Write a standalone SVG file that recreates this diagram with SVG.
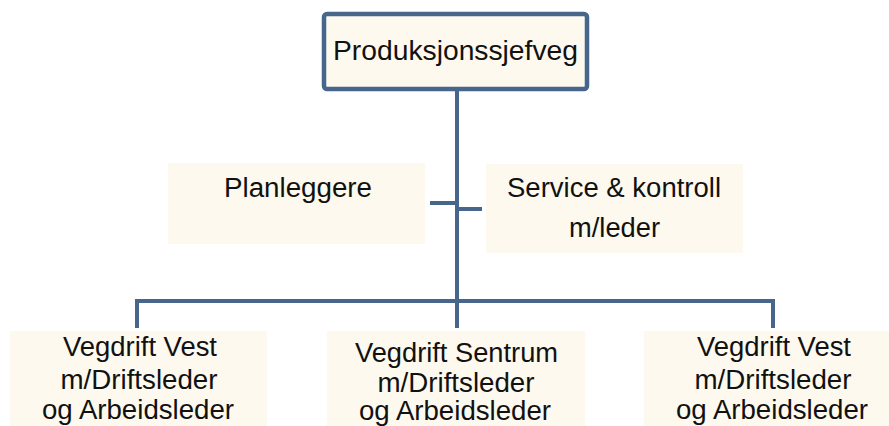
<svg xmlns="http://www.w3.org/2000/svg" width="889" height="426" viewBox="0 0 889 426">
<style>
.box{fill:#fdf9ee;}
.top{fill:#fdf9ee;stroke:#46678b;stroke-width:4.5;}
.t{font-family:"Liberation Sans",Arial,sans-serif;font-size:27px;fill:#111;text-anchor:middle;}
.c{stroke:#46678b;stroke-width:4;fill:none;}
</style>
<rect width="889" height="426" fill="#ffffff"/>
<g id="connectors">
<path class="c" d="M457,89 V328"/>
<path class="c" d="M137,328 V301 H773 V328"/>
<path class="c" d="M430,203 H457"/>
<path class="c" d="M457,209 H482"/>
</g>
<g id="node-produksjonssjefveg">
<rect class="top" x="324" y="14" width="263" height="75" rx="3"/>
<text class="t" x="455.5" y="60" textLength="245" lengthAdjust="spacingAndGlyphs">Produksjonssjefveg</text>
</g>
<g id="node-planleggere">
<rect class="box" x="168" y="163" width="257" height="81"/>
<text class="t" x="298" y="197" textLength="148" lengthAdjust="spacingAndGlyphs">Planleggere</text>
</g>
<g id="node-service">
<rect class="box" x="486" y="164" width="257" height="89"/>
<text class="t" x="614" y="197" textLength="214" lengthAdjust="spacingAndGlyphs">Service &amp; kontroll</text>
<text class="t" x="614.5" y="237" textLength="91" lengthAdjust="spacingAndGlyphs">m/leder</text>
</g>
<g id="node-vegdrift-vest-1">
<rect class="box" x="10" y="331" width="257" height="95"/>
<text class="t" x="140" y="356" textLength="154" lengthAdjust="spacingAndGlyphs">Vegdrift Vest</text>
<text class="t" x="139" y="389" textLength="157" lengthAdjust="spacingAndGlyphs">m/Driftsleder</text>
<text class="t" x="138" y="419" textLength="192" lengthAdjust="spacingAndGlyphs">og Arbeidsleder</text>
</g>
<g id="node-vegdrift-sentrum">
<rect class="box" x="327" y="331" width="258" height="95"/>
<text class="t" x="456.5" y="362" textLength="203" lengthAdjust="spacingAndGlyphs">Vegdrift Sentrum</text>
<text class="t" x="456" y="392" textLength="157" lengthAdjust="spacingAndGlyphs">m/Driftsleder</text>
<text class="t" x="455" y="420" textLength="192" lengthAdjust="spacingAndGlyphs">og Arbeidsleder</text>
</g>
<g id="node-vegdrift-vest-2">
<rect class="box" x="644" y="331" width="245" height="95"/>
<text class="t" x="774" y="356" textLength="154" lengthAdjust="spacingAndGlyphs">Vegdrift Vest</text>
<text class="t" x="773" y="389" textLength="157" lengthAdjust="spacingAndGlyphs">m/Driftsleder</text>
<text class="t" x="772" y="419" textLength="192" lengthAdjust="spacingAndGlyphs">og Arbeidsleder</text>
</g>
</svg>
